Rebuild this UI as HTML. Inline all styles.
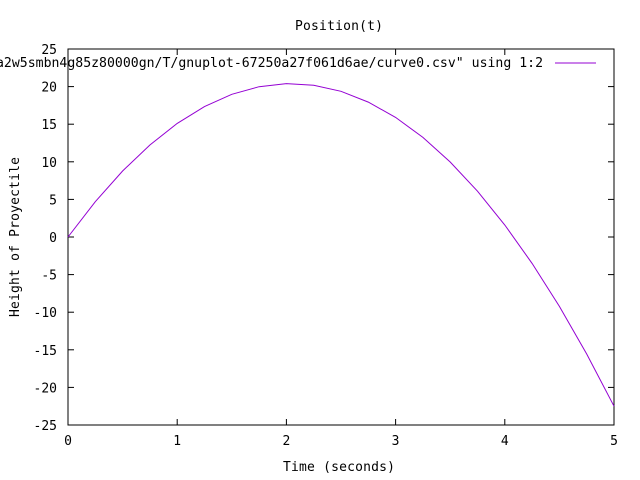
<!DOCTYPE html>
<html><head><meta charset="utf-8"><style>
body{margin:0;background:#fff;}
svg{display:block;font-family:"DejaVu Sans Mono","Liberation Mono",monospace;font-size:13px;}
</style></head><body>
<svg width="640" height="480">
<rect x="0" y="0" width="640" height="480" fill="#fff"/>
<text x="339" y="30" text-anchor="middle" textLength="88">Position(t)</text>
<g id="axes"></g>
<path id="curve" fill="none" stroke="#9400d3" stroke-width="1"/>
<text x="339" y="471" text-anchor="middle" textLength="112">Time (seconds)</text>
<text x="0" y="0" text-anchor="middle" textLength="160" transform="translate(19,237) rotate(-90)">Height of Proyectile</text>
<g>
<text x="-4" y="67" textLength="547" lengthAdjust="spacingAndGlyphs">a2w5smbn4g85z80000gn/T/gnuplot-67250a27f061d6ae/curve0.csv" using 1:2</text>
<line x1="555" y1="63" x2="596" y2="63" stroke="#9400d3"/>
</g>
</svg>
<script>
const times=[0,0.25,0.5,0.75,1,1.25,1.5,1.75,2,2.25,2.5,2.75,3,3.25,3.5,3.75,4,4.25,4.5,4.75,5];
const heights=[0,4.69,8.78,12.24,15.1,17.34,18.98,19.99,20.4,20.19,19.38,17.94,15.9,13.24,9.97,6.09,1.6,-3.51,-9.23,-15.56,-22.5];
const xTicks=[0,1,2,3,4,5];
const yTicks=[-25,-20,-15,-10,-5,0,5,10,15,20,25];
const L=68,R=614,T=49,B=425;
const xMin=0,xMax=5,yMin=-25,yMax=25;
function sx(v){return L+(v-xMin)/(xMax-xMin)*(R-L);}
function sy(v){return B-(v-yMin)/(yMax-yMin)*(B-T);}
const NS="http://www.w3.org/2000/svg";
const g=document.getElementById('axes');
function mk(tag,attrs){const e=document.createElementNS(NS,tag);for(const k in attrs)e.setAttribute(k,attrs[k]);g.appendChild(e);return e;}
const frame=mk('rect',{x:L,y:T,width:R-L,height:B-T,fill:'none',stroke:'#000'});


xTicks.forEach(v=>{
  const x=sx(v);
  const t1=mk('line',{x1:x,y1:B,x2:x,y2:B-6,stroke:'#000'});
  
  
  const t2=mk('line',{x1:x,y1:T,x2:x,y2:T+6,stroke:'#000'});
  
  
  const tx=mk('text',{x:x,y:B+20,'text-anchor':'middle'});
  tx.textContent=v;
  
  
});
yTicks.forEach(v=>{
  const y=sy(v);
  const t1=mk('line',{x1:L,y1:y,x2:L+6,y2:y,stroke:'#000'});
  
  
  const t2=mk('line',{x1:R,y1:y,x2:R-6,y2:y,stroke:'#000'});
  
  
  const tx=mk('text',{x:L-11,y:y+5,'text-anchor':'end'});
  tx.textContent=v;
  
  
});
document.getElementById('curve').setAttribute('d',times.map((t,i)=>(i?'L':'M')+sx(t).toFixed(1)+' '+sy(heights[i]).toFixed(1)).join(' '));
</script>
</body></html>
